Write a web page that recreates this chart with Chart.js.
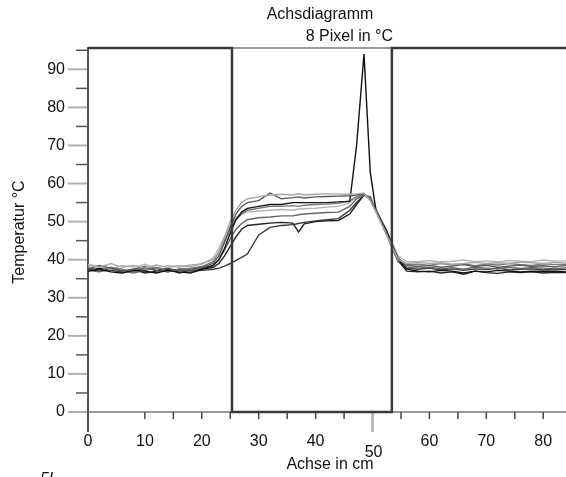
<!DOCTYPE html>
<html lang="de">
<head>
  <meta charset="UTF-8">
  <title>Achsdiagramm</title>
  <script src="https://cdn.jsdelivr.net/npm/chart.js"></script>
  <style>
    body { margin: 0; background: #fff; }
    canvas { display: block; }
  </style>
</head>
<body>
  <canvas id="chart" width="566" height="477"></canvas>
<script>
  // Achsposition in cm (gemeinsam fuer alle 8 Pixel)
  const achse = [0, 2, 4, 6, 8, 10, 12, 14, 16, 18, 20,
    22, 23, 24, 25, 26, 27, 28,
    30, 32, 34, 36, 37, 38,
    40, 42, 44, 46, 47.2, 48.5, 49.6, 50.6,
    52.5, 54.5,
    56, 58, 60, 62, 64, 66, 68, 70, 72, 74, 76, 78, 80, 82, 84];

  const pixel1 = [38.5, 38, 39, 38, 38.5, 37.8, 38.6, 38, 38.4, 38.2, 39,
    40, 42, 46, 50, 53, 55, 56,
    56.5, 57, 57.2, 57, 57.3, 57,
    57.2, 57.3, 57.3, 57.2, 57.3, 57.5, 55.5, 52.5,
    46.5, 40,
    39, 39.3, 39, 39.2, 38.8, 39, 39.3, 39, 39.2, 39, 39.4, 39.2, 39, 39.3, 39.1];
  const pixel2 = [37.5, 38.5, 37.8, 37, 37.5, 38.2, 37.2, 37.8, 37, 37.5, 38,
    39, 41, 44.5, 48.5, 52, 54, 55,
    55.5, 57.5, 56, 56.3, 56.5, 56.2,
    56.5, 56.6, 56.7, 56.8, 57, 57.2, 56, 53,
    47, 40.5,
    38.5, 38.2, 38.5, 38, 38.3, 38.7, 38.2, 38.5, 38, 38.3, 38.6, 38.2, 38.4, 38.1, 38.5];
  const pixel3 = [37, 37.5, 36.8, 36.5, 37.2, 37, 36.5, 37.2, 36.8, 36.5, 37.5,
    38.5, 40, 43, 47, 50.5, 52.5, 53.5,
    54, 54.5, 54.5, 55, 55, 55,
    55, 55, 55.2, 55.3, 70, 94, 63, 53,
    47.5, 40,
    37.5, 37, 36.8, 37.2, 37, 36.5, 37, 36.8, 37.2, 37, 36.8, 37, 36.9, 37, 36.8];
  const pixel4 = [38, 37.2, 38, 37.5, 36.8, 37.5, 38, 37, 37.6, 37.8, 38.2,
    39.5, 42, 45, 48, 50.5, 52, 53,
    53.5, 54, 54, 54.2, 54, 54.3,
    54.5, 54.6, 54.8, 55.5, 56.5, 57, 55.8, 52.8,
    46.5, 39.5,
    38.7, 38.8, 38.5, 39, 38.6, 38.9, 38.4, 38.8, 38.6, 39, 38.7, 38.5, 38.9, 38.7, 38.8];
  const pixel5 = [38.8, 38.2, 37.5, 38.5, 38, 38.8, 37.8, 38.5, 38, 38.6, 38.8,
    40.5, 43, 46, 49, 51, 52, 52.5,
    52.8, 53, 53.2, 53, 53.3, 53.4,
    53.5, 53.8, 54, 55, 56.5, 57.3, 56.2, 53.5,
    47.5, 41,
    39.5, 39.5, 39.8, 39.4, 39.6, 39.9, 39.5, 39.7, 39.4, 39.8, 39.6, 39.5, 39.9, 39.6, 39.7];
  const pixel6 = [37.2, 36.8, 37.5, 37, 36.5, 37.2, 37.8, 36.8, 37.3, 37, 37.8,
    38.5, 40, 42.5, 45.5, 48, 49.5, 50.5,
    51, 51.2, 51.5, 51.5, 51.8, 52,
    52.2, 52.4, 52.5, 54, 56, 57, 56, 53,
    46.8, 40.2,
    38, 37.8, 38, 37.6, 37.9, 37.5, 38, 37.8, 37.6, 38, 37.7, 37.9, 37.8, 37.6, 37.9];
  const pixel7 = [37, 37.8, 37.2, 36.8, 37.5, 36.5, 37, 37.5, 36.5, 37.2, 37.5,
    38, 39, 41, 43.5, 46, 48, 49,
    49.3, 49.6, 49.8, 49.6, 47.3, 49.4,
    50, 50.2, 50.3, 52, 54.5, 57, 56.5, 53.2,
    47, 39.8,
    37, 36.8, 37, 36.5, 36.8, 36.2, 37, 36.6, 36.4, 36.8, 36.6, 36.8, 36.5, 36.7, 36.6];
  const pixel8 = [37.5, 37, 37.8, 37.2, 37, 37.8, 37.2, 36.8, 37.5, 37, 37.2,
    37.5, 37.8, 38.3, 39, 39.8, 40.6, 41.5,
    46.5, 48.5, 49, 49.2, 49.5, 49.8,
    50.2, 50.5, 50.8, 53, 55, 57, 56.4, 53,
    46.5, 39.5,
    37.8, 37.5, 37.8, 37.3, 37.6, 37.2, 37.6, 37.4, 37.8, 37.3, 37.5, 37.6, 37.3, 37.5, 37.4];

  // Messbereich-Rahmen (dunkle Linie)
  const rahmenX = [0, 25.3, 25.3, 53.4, 53.4, 84];
  const rahmenY = [95.6, 95.6, 0, 0, 95.6, 95.6];

  const xTicks = [0, 10, 20, 30, 40, 50, 60, 70, 80];
  const yTicks = [0, 10, 20, 30, 40, 50, 60, 70, 80, 90];

  const pixelWerte = [pixel1, pixel2, pixel3, pixel4, pixel5, pixel6, pixel7, pixel8];
  const farben = ['#a8a8a8', '#5a5a5a', '#111111', '#7a7a7a', '#b5b5b5', '#666666', '#222222', '#3a3a3a'];

  const schrift = 'Liberation Sans, Arial, sans-serif';

  let datasets = [{
    data: rahmenX.map((x, i) => ({ x: x, y: rahmenY[i] })),
    borderColor: '#3a3a3a',
    borderWidth: 2.5,
    pointRadius: 0,
    clip: false
  }];
  for (let i = 0; i < pixelWerte.length; i++) {
    datasets.push({
      data: achse.map((x, j) => ({ x: x, y: pixelWerte[i][j] })),
      borderColor: farben[i],
      borderWidth: 1.4,
      pointRadius: 0
    });
  }

  const achsenPlugin = {
    id: 'achsen',
    beforeDatasetsDraw(chart) {
      const c = chart.ctx;
      const xs = chart.scales.x, ys = chart.scales.y;
      const x0 = xs.getPixelForValue(0);
      const y0 = ys.getPixelForValue(0);
      const yTop = ys.getPixelForValue(95.6);
      c.save();
      c.lineCap = 'butt';
      // obere Linie und x-Achse
      c.strokeStyle = '#9a9a9a';
      c.lineWidth = 2;
      c.beginPath(); c.moveTo(x0, yTop); c.lineTo(chart.width, yTop); c.stroke();
      c.beginPath(); c.moveTo(x0 - 20, y0); c.lineTo(chart.width, y0); c.stroke();
      // y Ticks
      for (let v = 0; v <= 90; v += 10) {
        const y = ys.getPixelForValue(v);
        c.strokeStyle = '#b0b0b0'; c.lineWidth = 2;
        c.beginPath(); c.moveTo(x0 - 20, y); c.lineTo(x0, y); c.stroke();
      }
      for (let v = 5; v <= 95; v += 10) {
        const y = ys.getPixelForValue(v);
        c.strokeStyle = '#555'; c.lineWidth = 1.5;
        c.beginPath(); c.moveTo(x0 - 12, y); c.lineTo(x0, y); c.stroke();
      }
      // x Ticks
      for (let v = 10; v <= 80; v += 5) {
        const x = xs.getPixelForValue(v);
        if (v === 50) {
          c.strokeStyle = '#b0b0b0'; c.lineWidth = 2.5;
          c.beginPath(); c.moveTo(x, y0); c.lineTo(x, y0 + 20); c.stroke();
        } else {
          c.strokeStyle = '#444'; c.lineWidth = 1.5;
          c.beginPath(); c.moveTo(x, y0); c.lineTo(x, y0 + 7); c.stroke();
        }
      }
      // y-Achse
      c.strokeStyle = '#555'; c.lineWidth = 2;
      c.beginPath(); c.moveTo(x0, yTop - 1); c.lineTo(x0, y0 + 20); c.stroke();
      c.restore();
    },
    afterDraw(chart) {
      const c = chart.ctx;
      const xs = chart.scales.x, ys = chart.scales.y;
      c.save();
      c.fillStyle = '#111';
      c.font = '16px ' + schrift;
      c.textBaseline = 'middle';
      c.textAlign = 'center';
      c.fillText('Achsdiagramm', 320, 15);
      c.textAlign = 'right';
      c.fillText('8 Pixel in °C', 393, 37);
      c.textAlign = 'center';
      c.fillText('50', xs.getPixelForValue(50) + 1, ys.getPixelForValue(0) + 41);
      c.fillText('Achse in cm', 330, 465);
      c.save();
      c.translate(20, 232);
      c.rotate(-Math.PI / 2);
      c.fillText('Temperatur °C', 0, 0);
      c.restore();
      c.font = 'italic 16px ' + schrift;
      c.textAlign = 'left';
      c.textBaseline = 'alphabetic';
      c.fillText('5l', 40, 484);
      c.restore();
    }
  };

  new Chart(document.getElementById('chart'), {
    type: 'line',
    data: { datasets: datasets },
    options: {
      responsive: false,
      animation: false,
      devicePixelRatio: 1,
      layout: { padding: { top: 48, right: 0, left: 0, bottom: 0 } },
      plugins: { legend: { display: false }, tooltip: { enabled: false } },
      elements: { line: { tension: 0 } },
      scales: {
        x: {
          type: 'linear',
          min: 0,
          max: 84,
          grid: { display: false, drawTicks: false },
          border: { display: false },
          afterBuildTicks: s => { s.ticks = xTicks.map(v => ({ value: v })); },
          afterFit: s => { s.height = 65; s.paddingRight = 0; s.paddingLeft = 0; },
          ticks: {
            padding: 20,
            color: '#111',
            font: { size: 16, family: schrift },
            maxRotation: 0,
            autoSkip: false,
            callback: v => (v === 50 ? '' : v)
          }
        },
        y: {
          min: 0,
          max: 95.6,
          grid: { display: false, drawTicks: false },
          border: { display: false },
          afterBuildTicks: s => { s.ticks = yTicks.map(v => ({ value: v })); },
          afterFit: s => { s.width = 88; s.paddingTop = 0; s.paddingBottom = 0; },
          ticks: {
            padding: 23,
            color: '#111',
            font: { size: 16, family: schrift },
            autoSkip: false
          }
        }
      }
    },
    plugins: [achsenPlugin]
  });
</script>
</body>
</html>
